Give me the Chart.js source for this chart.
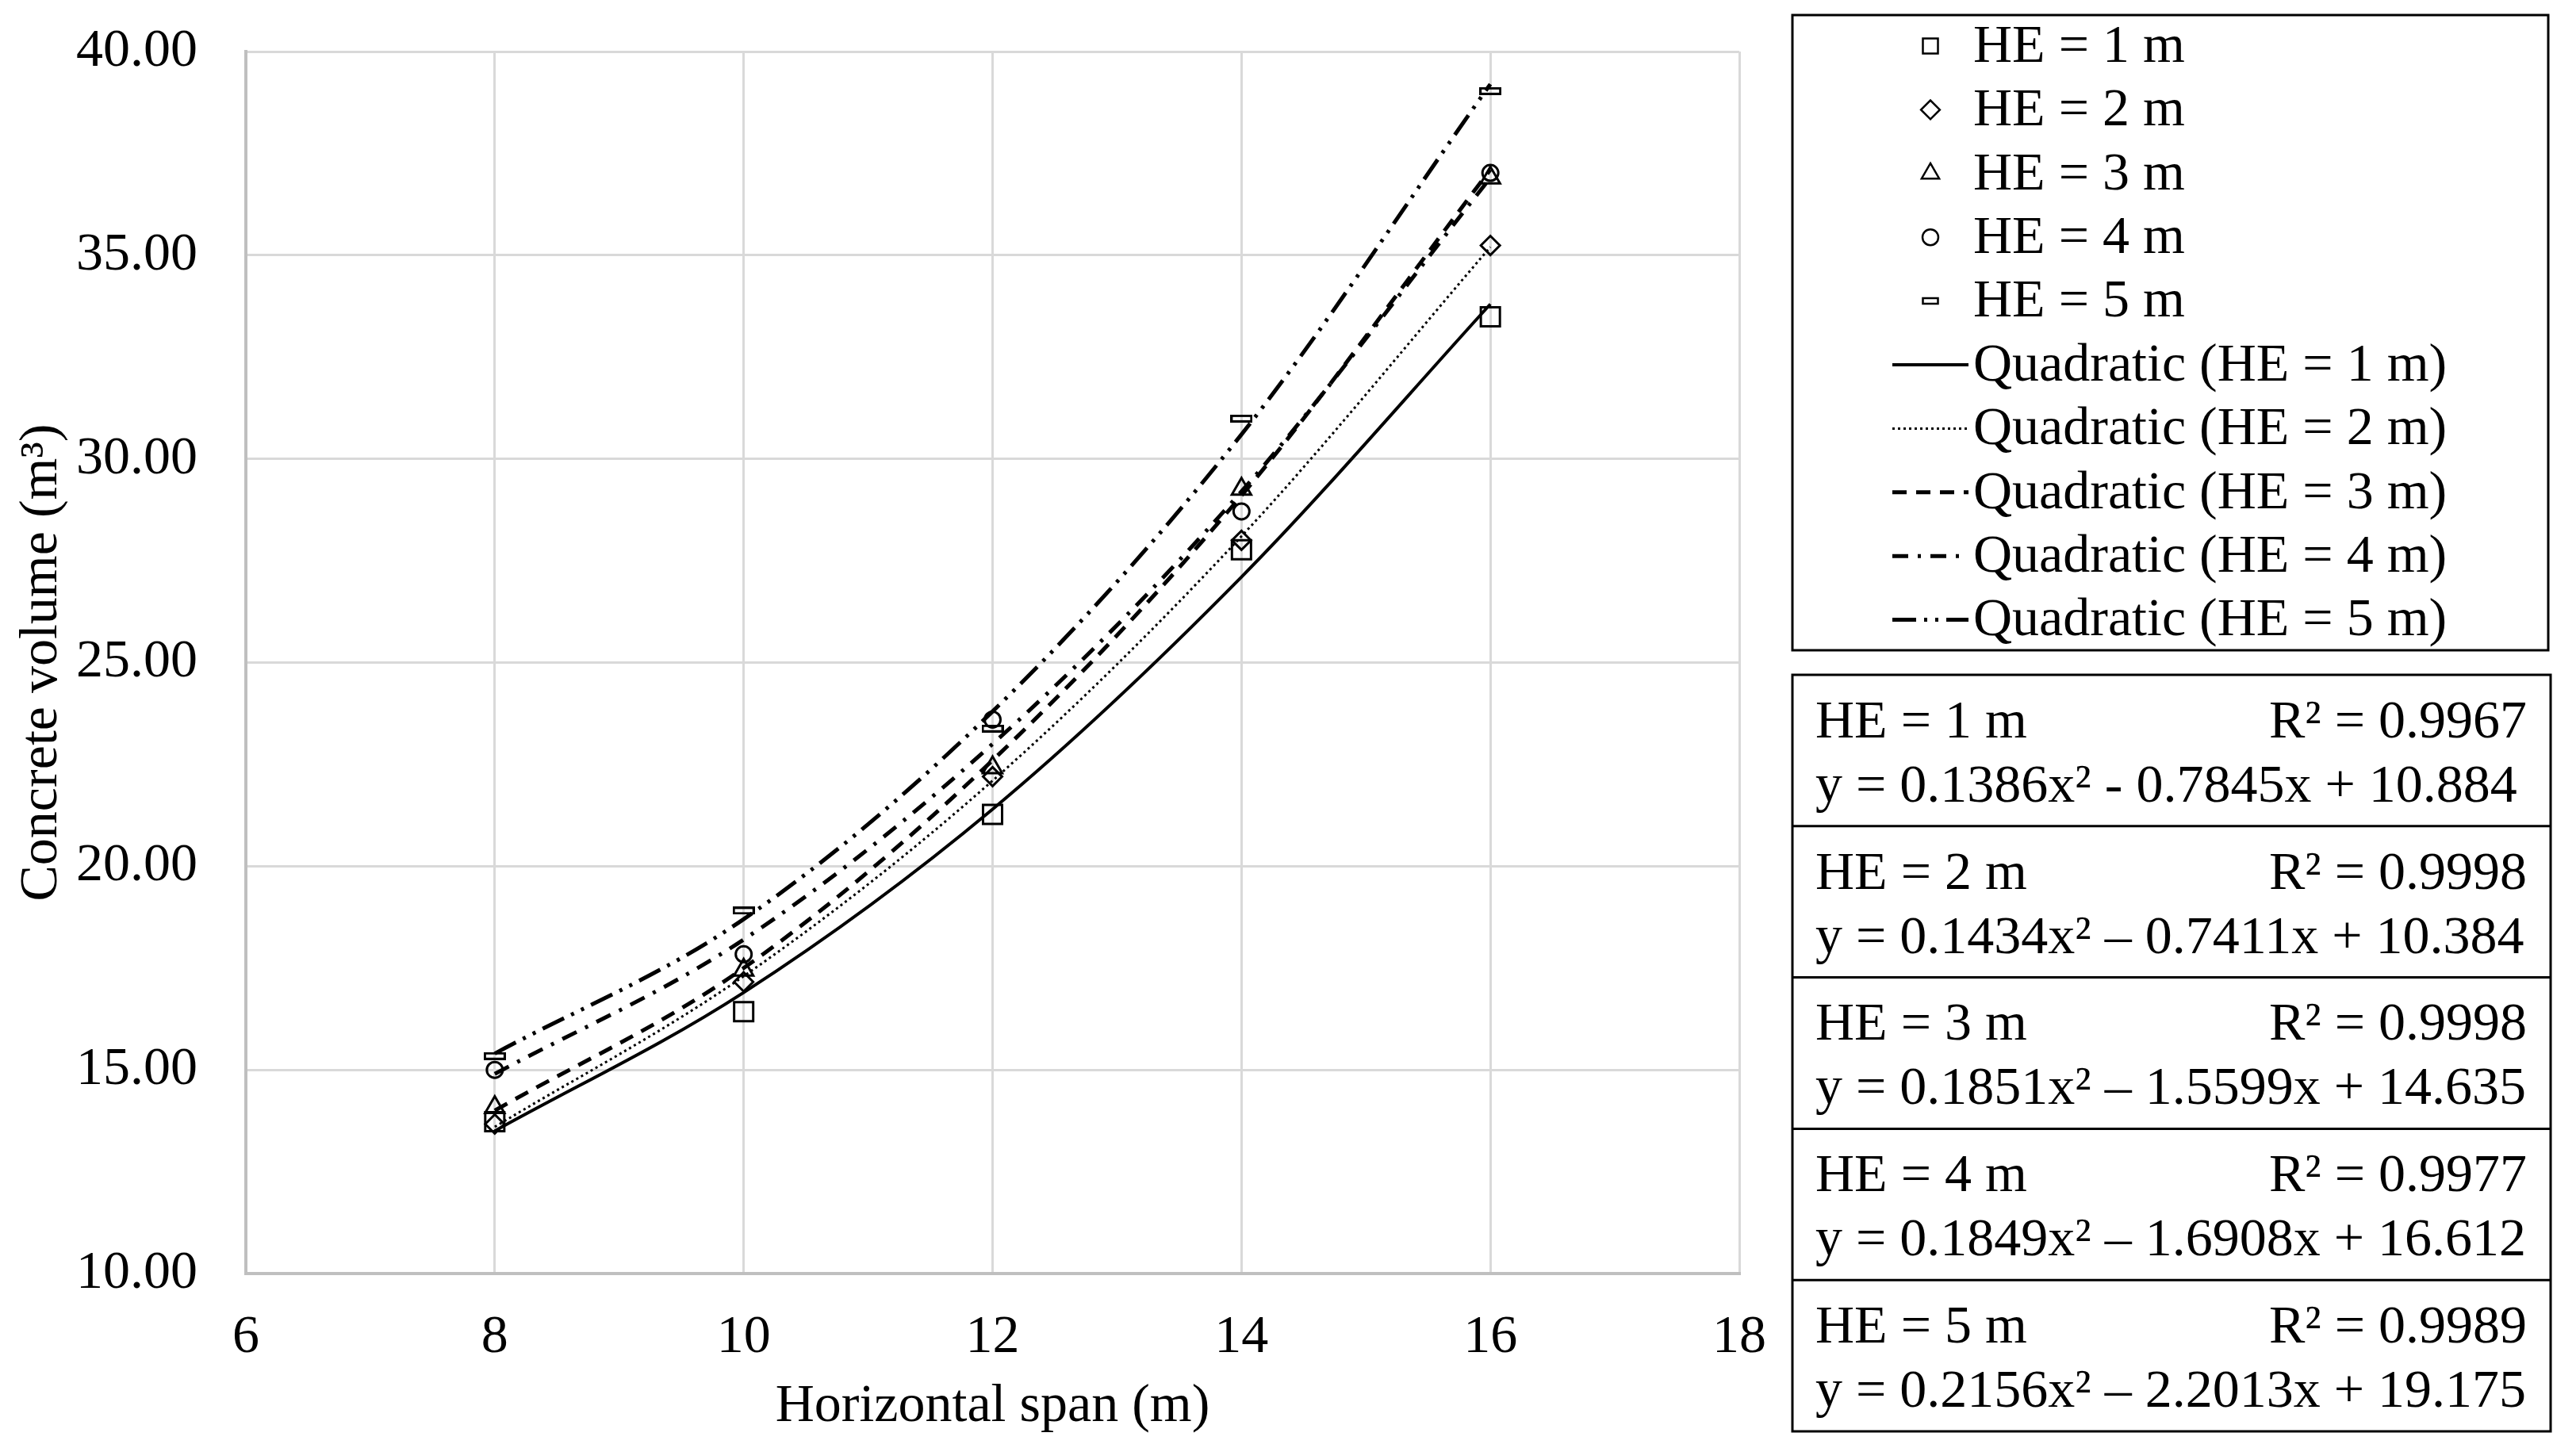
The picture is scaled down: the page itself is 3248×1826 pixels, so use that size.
<!DOCTYPE html>
<html><head><meta charset="utf-8">
<script src="https://cdn.jsdelivr.net/npm/chart.js@4/dist/chart.umd.min.js"></script>
<style>html,body{margin:0;padding:0;background:#fff;}canvas{display:block;}</style>
</head><body>
<canvas id="c" width="3248" height="1826" style="width:3248px;height:1826px"></canvas>
<script>
// ---------- data ----------
const spans = [8, 10, 12, 14, 16];
const seriesNames = ['HE = 1 m', 'HE = 2 m', 'HE = 3 m', 'HE = 4 m', 'HE = 5 m'];
const he1 = [13.73, 16.43, 21.27, 27.77, 33.49];
const he2 = [13.67, 17.16, 22.20, 28.00, 35.24];
const he3 = [14.08, 17.45, 22.42, 29.26, 36.90];
const he4 = [15.00, 17.84, 23.60, 28.71, 37.02];
const he5 = [15.34, 18.91, 23.38, 30.99, 39.03];
// quadratic trend lines read at each span
const fit1 = [13.5, 16.9, 21.4, 27.1, 33.8];
const fit2 = [13.6, 17.3, 22.1, 28.1, 35.2];
const fit3 = [14.0, 17.5, 22.6, 29.1, 37.1];
const fit4 = [14.9, 18.2, 23.0, 29.2, 36.9];
const fit5 = [15.4, 18.7, 23.8, 30.6, 39.2];
const xTicks = [6, 8, 10, 12, 14, 16, 18];
const yTicks = [10, 15, 20, 25, 30, 35, 40];
const r2Values = ['0.9967', '0.9998', '0.9998', '0.9977', '0.9989'];
const equations = [
  'y = 0.1386x\u00B2 - 0.7845x + 10.884',
  'y = 0.1434x\u00B2 \u2013 0.7411x + 10.384',
  'y = 0.1851x\u00B2 \u2013 1.5599x + 14.635',
  'y = 0.1849x\u00B2 \u2013 1.6908x + 16.612',
  'y = 0.2156x\u00B2 \u2013 2.2013x + 19.175'
];

// ---------- styles ----------
const FONT = '"Liberation Serif", "Times New Roman", serif';
const FS = 68;
const markerStyles = ['rect', 'rectRot', 'triangle', 'circle', 'dash'];
const markerRadius = [17, 12, 14, 10, 0];
const lineDashes = [[], [3, 4], [18, 12], [20, 12, 4, 12], [30, 10, 4, 10, 4, 10]];
const lineWidths = [4, 3, 5, 5, 5];

function dashImage(w, h, lw) {
  const cv = document.createElement('canvas');
  cv.width = w; cv.height = h;
  const c = cv.getContext('2d');
  c.strokeStyle = '#000'; c.lineWidth = lw;
  c.strokeRect(lw / 2, lw / 2, w - lw, h - lw);
  return cv;
}

const rawSeries = [he1, he2, he3, he4, he5];
const fits = [fit1, fit2, fit3, fit4, fit5];
const datasets = [];
rawSeries.forEach((vals, i) => {
  datasets.push({
    label: seriesNames[i],
    data: spans.map((x, k) => ({x: x, y: vals[k]})),
    showLine: false,
    pointStyle: markerStyles[i] === 'dash' ? dashImage(28, 10, 3) : markerStyles[i],
    pointRadius: markerRadius[i] || 14,
    pointBorderColor: '#000',
    pointBackgroundColor: 'rgba(0,0,0,0)',
    pointBorderWidth: 3,
    order: 1
  });
});
fits.forEach((vals, i) => {
  datasets.push({
    label: 'Quadratic (' + seriesNames[i] + ')',
    data: spans.map((x, k) => ({x: x, y: vals[k]})),
    showLine: true,
    borderColor: '#000',
    borderWidth: lineWidths[i],
    borderDash: lineDashes[i],
    pointRadius: 0,
    cubicInterpolationMode: 'monotone',
    fill: false,
    order: 0
  });
});

// ---------- legend + equation boxes ----------
function drawMarker(ctx, style, x, y, s) {
  ctx.save();
  ctx.strokeStyle = '#000'; ctx.lineWidth = 2.5;
  ctx.beginPath();
  if (style === 'rect') { ctx.rect(x - s, y - s, 2 * s, 2 * s); }
  else if (style === 'rectRot') { ctx.moveTo(x - s * 1.25, y); ctx.lineTo(x, y - s * 1.25); ctx.lineTo(x + s * 1.25, y); ctx.lineTo(x, y + s * 1.25); ctx.closePath(); }
  else if (style === 'triangle') { const r = s * 1.35; ctx.moveTo(x, y - r); ctx.lineTo(x + r * 0.866, y + r * 0.5); ctx.lineTo(x - r * 0.866, y + r * 0.5); ctx.closePath(); }
  else if (style === 'circle') { ctx.arc(x, y, s * 1.05, 0, Math.PI * 2); }
  else { ctx.rect(x - s, y - 3.5, 2 * s, 7); }
  ctx.stroke();
  ctx.restore();
}

const boxPlugin = {
  id: 'boxes',
  afterDraw(chart) {
    const ctx = chart.ctx;
    ctx.save();
    ctx.font = FS + 'px ' + FONT;
    ctx.fillStyle = '#000';
    ctx.textBaseline = 'middle';
    // legend box
    ctx.lineWidth = 3; ctx.strokeStyle = '#000';
    ctx.strokeRect(2260, 19, 953, 801);
    const rowH = 80.4, y0 = 58;
    for (let i = 0; i < 5; i++) {
      const y = y0 + i * rowH;
      drawMarker(ctx, markerStyles[i], 2434, y, 9.5);
      ctx.textAlign = 'left';
      ctx.fillText(seriesNames[i], 2488, y + 2);
    }
    for (let i = 0; i < 5; i++) {
      const y = y0 + (i + 5) * rowH;
      ctx.save();
      ctx.lineWidth = lineWidths[i]; ctx.setLineDash(lineDashes[i]);
      ctx.beginPath(); ctx.moveTo(2386, y); ctx.lineTo(2482, y); ctx.stroke();
      ctx.restore();
      ctx.fillText('Quadratic (' + seriesNames[i] + ')', 2488, y + 2);
    }
    // equation boxes
    const top = 851, bh = 190.8;
    ctx.strokeRect(2260, top, 956, bh * 5);
    for (let i = 0; i < 5; i++) {
      const t = top + i * bh;
      if (i > 0) { ctx.beginPath(); ctx.moveTo(2260, t); ctx.lineTo(3216, t); ctx.stroke(); }
      ctx.textAlign = 'left';
      ctx.fillText(seriesNames[i], 2289, t + 61);
      ctx.textAlign = 'right';
      ctx.fillText('R\u00B2 = ' + r2Values[i], 3186, t + 61);
      ctx.textAlign = 'left';
      ctx.fillText(equations[i], 2289, t + 142);
    }
    ctx.restore();
  }
};

new Chart(document.getElementById('c'), {
  type: 'scatter',
  data: {datasets: datasets},
  plugins: [boxPlugin],
  options: {
    responsive: false,
    animation: false,
    layout: {padding: {top: 65, right: 1055, left: 0, bottom: 0}},
    plugins: {legend: {display: false}, tooltip: {enabled: false}},
    scales: {
      x: {
        type: 'linear', min: 6, max: 18,
        afterBuildTicks: s => { s.ticks = xTicks.map(v => ({value: v})); },
        afterFit: s => { s.height = 220; s.paddingLeft = 0; s.paddingRight = 0; },
        ticks: {color: '#000', font: {family: FONT, size: FS}, padding: 40},
        grid: {color: '#d9d9d9', lineWidth: 3, drawTicks: false},
        border: {color: '#bfbfbf', width: 4},
        title: {display: true, text: 'Horizontal span (m)', color: '#000', font: {family: FONT, size: FS}, padding: {top: 0, bottom: 11}}
      },
      y: {
        type: 'linear', min: 10, max: 40,
        afterBuildTicks: s => { s.ticks = yTicks.map(v => ({value: v})); },
        afterFit: s => { s.width = 310; s.paddingTop = 0; s.paddingBottom = 0; },
        ticks: {color: '#000', font: {family: FONT, size: FS}, padding: 61, callback: v => Number(v).toFixed(2)},
        grid: {color: '#d9d9d9', lineWidth: 3, drawTicks: false},
        border: {color: '#bfbfbf', width: 4},
        title: {display: true, text: 'Concrete volume (m\u00B3)', color: '#000', font: {family: FONT, size: FS}, padding: {top: 12, bottom: 0}}
      }
    }
  }
});
</script>
</body></html>
